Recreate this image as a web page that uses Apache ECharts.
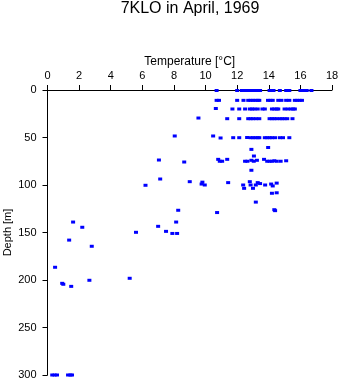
<!DOCTYPE html>
<html>
<head>
<meta charset="utf-8">
<script src="https://cdn.jsdelivr.net/npm/echarts@6/dist/echarts.min.js"></script>
<style>html,body{margin:0;padding:0;background:#fff;}#c{width:341px;height:384px;}</style>
</head>
<body>
<div id="c"></div>
<script>
var titleText = "7KLO in April, 1969";
var xName = "Temperature [°C]";
var yName = "Depth [m]";
var xTicks = [0, 2, 4, 6, 8, 10, 12, 14, 16, 18];
var yTicks = [0, 50, 100, 150, 200, 250, 300];

// temperature values (°C) with matching depths (m)
var temps = [
  // ~0 m
  10.7, 12.0, 12.3, 12.5, 12.7, 12.9, 13.1, 13.3, 13.45, 14.05, 14.2, 14.3, 14.7, 15.1, 15.3, 16.0, 16.2, 16.4, 16.7,
  // ~10 m
  10.7, 10.85, 12.0, 12.4, 12.7, 12.85, 13.0, 13.15, 13.3, 13.4, 13.95, 14.1, 14.25, 14.6, 14.8, 15.1, 15.3, 15.65, 15.8, 15.95, 16.1,
  // ~20 m
  10.65, 11.7, 12.13, 12.5, 12.8, 12.95, 13.1, 13.3, 13.6, 13.75, 14.2, 14.35, 14.5, 14.6, 15.0, 15.2, 15.4, 15.55, 15.65,
  // ~30 m
  9.55, 11.37, 12.13, 12.7, 12.85, 13.0, 13.2, 13.4, 14.05, 14.2, 14.35, 14.5, 14.7, 14.85, 15.0, 15.17, 15.5,
  // ~50 m
  8.05, 10.48, 10.95, 11.75, 12.13, 12.63, 12.85, 13.0, 13.15, 13.3, 13.4, 13.75, 13.9, 14.05, 14.2, 14.4, 14.7, 14.9, 15.3,
  // 60-70 m
  12.9, 13.96, 13.06,
  // ~75 m
  7.05, 8.65, 10.8, 10.9, 11.05, 11.37, 12.5, 12.65, 12.9, 13.05, 13.25, 13.7, 13.9, 14.05, 14.2, 14.35, 14.5, 14.75, 15.1,
  12.9, 7.13,
  // ~100 m
  6.2, 9.0, 9.8, 9.75, 9.95, 11.43, 12.38, 12.44, 12.8, 12.85, 13.0, 13.18, 13.3, 13.45, 13.77, 14.15, 14.25, 14.5,
  14.2, 14.5, 13.18, 10.73, 14.4, 14.35,
  // 125-165 m
  8.27, 1.62, 8.14, 2.2, 7.0, 7.5, 7.9, 8.2, 5.6, 1.37, 2.8,
  // deeper
  0.48, 0.93, 1.0, 1.5, 2.65, 5.2,
  // 300 m
  0.3, 0.45, 0.6, 1.3, 1.45, 1.55
];
var depths = [
  0.5, 0.5, 0.5, 0.5, 0.5, 0.5, 0.5, 0.5, 0.5, 0.5, 0.5, 0.5, 0.5, 0.5, 0.5, 0.5, 0.5, 0.5, 0.5,
  10.9, 10.9, 10.9, 10.9, 10.9, 10.9, 10.9, 10.9, 10.9, 10.9, 10.9, 10.9, 10.9, 10.9, 10.9, 10.9, 10.9, 10.9, 10.9, 10.9, 10.9,
  19.5, 20, 20, 20, 20, 20, 20, 20, 20, 20, 20, 20, 20, 20, 20, 20, 20, 20, 20,
  29.5, 30.2, 30.2, 30.2, 30.2, 30.2, 30.2, 30.2, 30.2, 30.2, 30.2, 30.2, 30.2, 30.2, 30.2, 30.2, 30.2,
  48.4, 48.4, 50.5, 50.2, 50.2, 50, 50.2, 50.2, 50.2, 50.2, 50.2, 50.2, 50.2, 50.2, 50.2, 50.2, 50.2, 50.2, 50.2,
  62.5, 60.5, 69.5,
  73.7, 75.8, 73, 75, 75, 73, 75, 75, 74, 75, 74, 73, 75, 75, 75, 74.5, 75, 75, 74.5,
  84.5, 93.7,
  100.3, 96.5, 97, 99, 100, 97.5, 100, 103.5, 96.5, 100, 103.5, 100, 97.5, 98.5, 100, 99, 101, 98,
  108.7, 108.2, 118, 129, 127, 126,
  126.6, 139, 139, 144.5, 143.5, 148.8, 151, 151, 149.8, 158, 164.5,
  186.6, 203.5, 204.5, 206.7, 200.3, 198.2,
  300, 300, 300, 300, 300, 300
];

var pts = temps.map(function (t, i) { return [t, depths[i]]; });

var chart = echarts.init(document.getElementById('c'), null, {renderer: 'canvas'});
var fontFam = 'Liberation Sans, Arial, sans-serif';
chart.setOption({
  animation: false,
  backgroundColor: '#ffffff',
  title: {
    text: titleText,
    left: 190,
    textAlign: 'center',
    top: 0,
    padding: [1, 0, 0, 0],
    textStyle: {fontFamily: fontFam, fontSize: 16, fontWeight: 'normal', color: '#000'}
  },
  grid: {left: 47.5, right: 9, top: 90, bottom: 9, containLabel: false, outerBoundsMode: 'none'},
  xAxis: {
    type: 'value',
    position: 'top',
    min: xTicks[0], max: xTicks[xTicks.length - 1], interval: 2,
    name: xName,
    nameLocation: 'middle',
    nameGap: 22,
    nameMoveOverlap: false,
    nameTextStyle: {fontFamily: fontFam, fontSize: 12, color: '#000'},
    axisLine: {show: true, onZero: false, lineStyle: {color: '#000', width: 1}},
    axisTick: {show: true, inside: false, length: 5, lineStyle: {color: '#000'}},
    axisLabel: {fontFamily: fontFam, fontSize: 11, color: '#000', margin: 9},
    splitLine: {show: false}
  },
  yAxis: {
    type: 'value',
    inverse: true,
    min: yTicks[0], max: yTicks[yTicks.length - 1], interval: 50,
    name: yName,
    nameLocation: 'middle',
    nameGap: 34,
    nameMoveOverlap: false,
    nameRotate: 90,
    nameTextStyle: {fontFamily: fontFam, fontSize: 11, color: '#000'},
    axisLine: {show: true, onZero: false, lineStyle: {color: '#000', width: 1}},
    axisTick: {show: true, inside: false, length: 5, lineStyle: {color: '#000'}},
    axisLabel: {fontFamily: fontFam, fontSize: 11, color: '#000', margin: 11},
    splitLine: {show: false}
  },
  series: [{
    type: 'scatter',
    data: pts,
    symbol: 'rect',
    symbolSize: [4, 3],
    itemStyle: {color: '#0000ff', opacity: 1},
    silent: true
  }]
});
</script>
</body>
</html>
